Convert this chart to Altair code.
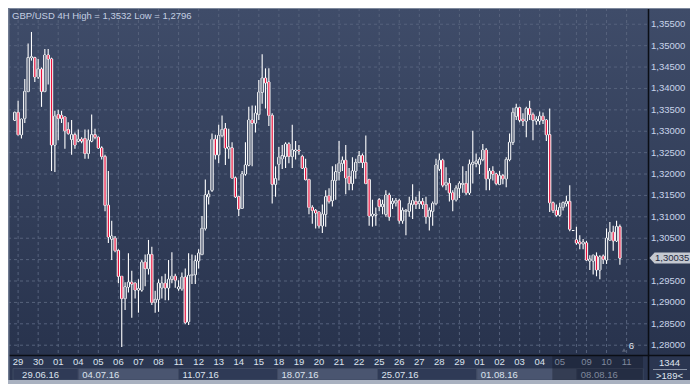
import altair as alt
import pandas as pd

# ---------------- data (GBP/USD 4H candles) ----------------
idx = list(range(-1, 181))
opens = [1.3326, 1.3344, 1.3292, 1.3330, 1.3393, 1.3472, 1.3472, 1.3427, 1.3445, 1.3393,
         1.3478, 1.3469, 1.3268, 1.3339, 1.3337, 1.3333, 1.3304, 1.3281, 1.3292, 1.3277,
         1.3281, 1.3283, 1.3248, 1.3277, 1.3292, 1.3286, 1.3261, 1.3241, 1.3127, 1.3048,
         1.3050, 1.3021, 1.2961, 1.2909, 1.2936, 1.2947, 1.2945, 1.2929, 1.2929, 1.2994,
         1.2979, 1.3012, 1.2900, 1.2907, 1.2934, 1.2945, 1.2934, 1.2954, 1.2961, 1.2932,
         1.2932, 1.2959, 1.2855, 1.2963, 1.2965, 1.2997, 1.3012, 1.3073, 1.3147, 1.3162,
         1.3281, 1.3245, 1.3290, 1.3306, 1.3259, 1.3261, 1.3191, 1.3147, 1.3120, 1.3200,
         1.3221, 1.3326, 1.3319, 1.3339, 1.3391, 1.3424, 1.3415, 1.3337, 1.3176, 1.3223,
         1.3236, 1.3241, 1.3270, 1.3241, 1.3254, 1.3256, 1.3241, 1.3214, 1.3187, 1.3122,
         1.3115, 1.3111, 1.3079, 1.3106, 1.3149, 1.3138, 1.3185, 1.3205, 1.3225, 1.3232,
         1.3194, 1.3178, 1.3207, 1.3227, 1.3243, 1.3227, 1.3187, 1.3102, 1.3104, 1.3140,
         1.3124, 1.3106, 1.3151, 1.3131, 1.3133, 1.3138, 1.3091, 1.3113, 1.3113, 1.3129,
         1.3136, 1.3131, 1.3136, 1.3129, 1.3100, 1.3113, 1.3131, 1.3212, 1.3232, 1.3174,
         1.3178, 1.3156, 1.3140, 1.3167, 1.3176, 1.3178, 1.3156, 1.3223, 1.3225, 1.3223,
         1.3234, 1.3256, 1.3189, 1.3207, 1.3200, 1.3176, 1.3196, 1.3189, 1.3234, 1.3274,
         1.3335, 1.3355, 1.3328, 1.3324, 1.3353, 1.3339, 1.3324, 1.3324, 1.3335, 1.3326,
         1.3292, 1.3133, 1.3115, 1.3104, 1.3122, 1.3131, 1.3136, 1.3068, 1.3046, 1.3041,
         1.3037, 1.3039, 1.2997, 1.2997, 1.3008, 1.2976, 1.3008, 1.2999, 1.3046, 1.3064,
         1.3044, 1.3077]
highs = [1.3346, 1.3371, 1.3330, 1.3422, 1.3505, 1.3532, 1.3474, 1.3469, 1.3449, 1.3492,
         1.3492, 1.3472, 1.3348, 1.3350, 1.3348, 1.3335, 1.3321, 1.3326, 1.3297, 1.3304,
         1.3286, 1.3304, 1.3304, 1.3339, 1.3306, 1.3288, 1.3265, 1.3245, 1.3207, 1.3091,
         1.3055, 1.3024, 1.2961, 1.2947, 1.3015, 1.2974, 1.2947, 1.2954, 1.2999, 1.3012,
         1.3046, 1.3030, 1.2927, 1.2954, 1.2961, 1.2967, 1.2999, 1.3017, 1.2967, 1.2952,
         1.2970, 1.2979, 1.3015, 1.3012, 1.3010, 1.3024, 1.3102, 1.3187, 1.3162, 1.3295,
         1.3292, 1.3315, 1.3337, 1.3319, 1.3306, 1.3274, 1.3194, 1.3149, 1.3207, 1.3274,
         1.3357, 1.3360, 1.3360, 1.3420, 1.3480, 1.3447, 1.3447, 1.3342, 1.3218, 1.3263,
         1.3268, 1.3274, 1.3274, 1.3315, 1.3277, 1.3268, 1.3245, 1.3236, 1.3189, 1.3127,
         1.3118, 1.3113, 1.3129, 1.3162, 1.3167, 1.3218, 1.3223, 1.3277, 1.3241, 1.3268,
         1.3214, 1.3239, 1.3236, 1.3254, 1.3248, 1.3290, 1.3189, 1.3140, 1.3122, 1.3144,
         1.3140, 1.3162, 1.3156, 1.3144, 1.3144, 1.3142, 1.3122, 1.3118, 1.3147, 1.3176,
         1.3147, 1.3160, 1.3144, 1.3147, 1.3122, 1.3136, 1.3236, 1.3248, 1.3236, 1.3216,
         1.3191, 1.3162, 1.3174, 1.3183, 1.3218, 1.3207, 1.3234, 1.3301, 1.3248, 1.3239,
         1.3270, 1.3261, 1.3214, 1.3218, 1.3203, 1.3207, 1.3200, 1.3239, 1.3295, 1.3355,
         1.3364, 1.3357, 1.3342, 1.3357, 1.3371, 1.3344, 1.3335, 1.3346, 1.3344, 1.3328,
         1.3353, 1.3136, 1.3129, 1.3133, 1.3136, 1.3149, 1.3174, 1.3068, 1.3077, 1.3057,
         1.3048, 1.3044, 1.3010, 1.3012, 1.3017, 1.3010, 1.3012, 1.3073, 1.3088, 1.3079,
         1.3091, 1.3082]
lows = [1.3324, 1.3290, 1.3283, 1.3319, 1.3391, 1.3465, 1.3415, 1.3422, 1.3357, 1.3391,
        1.3409, 1.3207, 1.3205, 1.3279, 1.3319, 1.3259, 1.3292, 1.3245, 1.3259, 1.3274,
        1.3272, 1.3236, 1.3236, 1.3274, 1.3281, 1.3259, 1.3234, 1.3113, 1.3039, 1.2999,
        1.3017, 1.2945, 1.2796, 1.2882, 1.2923, 1.2864, 1.2909, 1.2876, 1.2925, 1.2938,
        1.2965, 1.2894, 1.2876, 1.2878, 1.2909, 1.2905, 1.2905, 1.2945, 1.2934, 1.2927,
        1.2927, 1.2849, 1.2847, 1.2943, 1.2943, 1.2979, 1.3010, 1.3068, 1.3129, 1.3158,
        1.3234, 1.3225, 1.3286, 1.3221, 1.3236, 1.3189, 1.3144, 1.3102, 1.3118, 1.3196,
        1.3218, 1.3218, 1.3297, 1.3326, 1.3364, 1.3353, 1.3312, 1.3131, 1.3147, 1.3185,
        1.3212, 1.3214, 1.3225, 1.3214, 1.3234, 1.3245, 1.3212, 1.3185, 1.3106, 1.3084,
        1.3073, 1.3073, 1.3062, 1.3077, 1.3131, 1.3124, 1.3140, 1.3185, 1.3207, 1.3153,
        1.3162, 1.3162, 1.3189, 1.3225, 1.3214, 1.3176, 1.3079, 1.3077, 1.3079, 1.3113,
        1.3106, 1.3100, 1.3091, 1.3118, 1.3124, 1.3084, 1.3084, 1.3057, 1.3100, 1.3095,
        1.3118, 1.3118, 1.3118, 1.3084, 1.3068, 1.3079, 1.3127, 1.3207, 1.3169, 1.3162,
        1.3136, 1.3113, 1.3136, 1.3144, 1.3156, 1.3151, 1.3151, 1.3178, 1.3216, 1.3200,
        1.3230, 1.3162, 1.3162, 1.3185, 1.3174, 1.3174, 1.3176, 1.3169, 1.3230, 1.3268,
        1.3326, 1.3321, 1.3312, 1.3286, 1.3326, 1.3279, 1.3315, 1.3315, 1.3317, 1.3277,
        1.3111, 1.3109, 1.3100, 1.3100, 1.3115, 1.3124, 1.3066, 1.3068, 1.3035, 1.3024,
        1.3024, 1.2997, 1.2976, 1.2965, 1.2961, 1.2954, 1.2990, 1.2990, 1.3044, 1.3021,
        1.3041, 1.2988]
closes = [1.3344, 1.3292, 1.3328, 1.3393, 1.3472, 1.3474, 1.3427, 1.3445, 1.3393, 1.3478,
          1.3469, 1.3268, 1.3335, 1.3330, 1.3330, 1.3301, 1.3295, 1.3292, 1.3268, 1.3281,
          1.3277, 1.3248, 1.3279, 1.3292, 1.3286, 1.3261, 1.3241, 1.3127, 1.3053, 1.3055,
          1.3021, 1.2961, 1.2909, 1.2936, 1.2947, 1.2943, 1.2929, 1.2932, 1.2994, 1.2979,
          1.3012, 1.2900, 1.2907, 1.2945, 1.2945, 1.2934, 1.2954, 1.2961, 1.2952, 1.2936,
          1.2959, 1.2853, 1.2963, 1.2965, 1.2997, 1.3015, 1.3073, 1.3151, 1.3153, 1.3281,
          1.3245, 1.3290, 1.3304, 1.3261, 1.3263, 1.3191, 1.3147, 1.3118, 1.3200, 1.3221,
          1.3326, 1.3319, 1.3342, 1.3391, 1.3424, 1.3413, 1.3337, 1.3176, 1.3189, 1.3239,
          1.3243, 1.3270, 1.3241, 1.3256, 1.3256, 1.3254, 1.3214, 1.3187, 1.3122, 1.3115,
          1.3109, 1.3079, 1.3106, 1.3147, 1.3136, 1.3185, 1.3205, 1.3225, 1.3232, 1.3191,
          1.3178, 1.3207, 1.3227, 1.3243, 1.3227, 1.3178, 1.3102, 1.3106, 1.3106, 1.3124,
          1.3129, 1.3151, 1.3100, 1.3136, 1.3138, 1.3091, 1.3115, 1.3115, 1.3131, 1.3138,
          1.3129, 1.3136, 1.3129, 1.3100, 1.3115, 1.3131, 1.3221, 1.3232, 1.3174, 1.3180,
          1.3156, 1.3140, 1.3167, 1.3178, 1.3178, 1.3156, 1.3223, 1.3227, 1.3230, 1.3234,
          1.3256, 1.3189, 1.3207, 1.3200, 1.3178, 1.3196, 1.3189, 1.3234, 1.3274, 1.3344,
          1.3355, 1.3326, 1.3324, 1.3353, 1.3339, 1.3326, 1.3328, 1.3335, 1.3326, 1.3292,
          1.3133, 1.3115, 1.3104, 1.3122, 1.3133, 1.3136, 1.3071, 1.3068, 1.3039, 1.3037,
          1.3041, 1.2999, 1.3001, 1.3010, 1.2976, 1.3006, 1.3001, 1.3050, 1.3064, 1.3044,
          1.3077, 1.30035]

day_labels = ["29", "30", "01", "04", "05", "06", "07", "08", "11", "12", "13", "14", "15",
              "18", "19", "20", "21", "22", "25", "26", "27", "28", "29", "01", "02", "03",
              "04", "05", "09", "10", "11"]
day_pos = [0, 6, 12, 18, 24, 30, 36, 42, 48, 54, 60, 66, 72, 78, 84, 90, 96, 102, 108, 114,
           120, 126, 132, 138, 144, 150, 156, 162, 170, 176, 182]
hidden_day_pos = [167]          # Monday 08, label hidden by overlap
week_labels = ["29.06.16", "04.07.16", "11.07.16", "18.07.16", "25.07.16", "01.08.16", "08.08.16"]
week_start = [-1.525, 18, 48, 77.6, 107.5, 137.2, 167.1]
week_anchor = [0, 18, 48, 77.6, 107.5, 137.2, 167.1]
price_ticks = [1.280, 1.285, 1.290, 1.295, 1.300, 1.305, 1.310, 1.315, 1.320, 1.325,
               1.330, 1.335, 1.340, 1.345, 1.350, 1.355]
# the 1,30000 label sits under the current-price marker in the reference
price_labels = [v for v in price_ticks if abs(v - 1.300) > 1e-9]

# ---------------- layout ----------------
W, H = 640, 347
RIGHT, BOTTOM = 42, 29
XMIN, XMAX = -1.525, 186.91
YMIN, YMAX = 1.27771, 1.3588
FONT = "Liberation Sans"
FS = 9.5

xs = alt.Scale(domain=[XMIN, XMAX], nice=False, zero=False)
ys = alt.Scale(domain=[YMIN, YMAX], nice=False, zero=False)

one = pd.DataFrame({"a": [0]})
df = pd.DataFrame({"idx": idx, "open": opens, "high": highs, "low": lows, "close": closes})

title_txt = ("GBP/USD 4H High = " + f"{max(highs):.4f}" + " Low = " + f"{min(lows):.4f}").replace(".", ",")

# background gradient (plot + right scale area)
grad = alt.LinearGradient(gradient="linear",
                          stops=[alt.GradientStop(color="#3f4c69", offset=0),
                                 alt.GradientStop(color="#28334d", offset=1)],
                          x1=0, x2=0, y1=0, y2=1)
bg = alt.Chart(one).mark_rect(fill=grad).encode(
    x=alt.value(0), x2=alt.value(W + RIGHT), y=alt.value(0), y2=alt.value(H))

# bottom axis area
axis_bg = alt.Chart(one).mark_rect(fill="#2b3651").encode(
    x=alt.value(0), x2=alt.value(W + RIGHT), y=alt.value(H), y2=alt.value(H + BOTTOM))

wk = pd.DataFrame({
    "s": week_start,
    "e": week_start[1:] + [XMAX],
    "a": week_anchor,
    "t": week_labels,
    "c": ["#2f3a56" if i % 2 == 0 else "#4a5570" for i in range(len(week_labels))],
})
week_boxes = alt.Chart(wk).mark_rect(stroke="#3f4a63", strokeWidth=1).encode(
    x=alt.X("s:Q", scale=xs, axis=None), x2="e:Q",
    y=alt.value(360.5), y2=alt.value(372),
    fill=alt.Fill("c:N", scale=None))

overlay = alt.Chart(pd.DataFrame({"s": [159.8], "e": [XMAX]})).mark_rect(
    fill="#121826", opacity=0.38).encode(
    x=alt.X("s:Q", scale=xs, axis=None), x2="e:Q", y=alt.value(H), y2=alt.value(372))

bottom_strip = alt.Chart(one).mark_rect(fill="#a9b1c0").encode(
    x=alt.value(0), x2=alt.value(W + RIGHT), y=alt.value(372), y2=alt.value(H + BOTTOM))

# grid
hgrid = alt.Chart(pd.DataFrame({"v": price_ticks})).mark_rule(
    color="#56627c", strokeDash=[3, 3], strokeWidth=1).encode(
    y=alt.Y("v:Q", scale=ys, axis=None), x=alt.value(0), x2=alt.value(W))
vgrid = alt.Chart(pd.DataFrame({"p": day_pos + hidden_day_pos})).mark_rule(
    color="#56627c", strokeDash=[3, 3], strokeWidth=1).encode(
    x=alt.X("p:Q", scale=xs, axis=None), y=alt.value(0), y2=alt.value(H))

# candles
base = alt.Chart(df).transform_calculate(
    top="max(datum.open, datum.close)", bot="min(datum.open, datum.close)")
upper = base.mark_rule(color="#ffffff", strokeWidth=1.1).encode(
    x=alt.X("idx:Q", scale=xs, axis=None),
    y=alt.Y("high:Q", scale=ys, axis=None), y2="top:Q")
lower = base.mark_rule(color="#ffffff", strokeWidth=1.1).encode(
    x=alt.X("idx:Q", scale=xs, axis=None),
    y=alt.Y("bot:Q", scale=ys, axis=None), y2="low:Q")
body_outer = alt.Chart(df).mark_bar(size=2.3, fill="#ffffff", stroke="#ffffff", strokeWidth=1).encode(
    x=alt.X("idx:Q", scale=xs, axis=None),
    y=alt.Y("open:Q", scale=ys, axis=None), y2="close:Q")
body_inner = alt.Chart(df).mark_bar(size=1.2, strokeWidth=0).encode(
    x=alt.X("idx:Q", scale=xs, axis=None),
    y=alt.Y("open:Q", scale=ys, axis=None), y2="close:Q",
    fill=alt.condition("datum.close < datum.open", alt.value("#e8113d"), alt.value("#34405c")))

# frame lines
vline = alt.Chart(one).mark_rule(color="#0b0e15", strokeWidth=1.5).encode(
    x=alt.value(W + 0.5), y=alt.value(0), y2=alt.value(372))
hline = alt.Chart(one).mark_rule(color="#0b0e15", strokeWidth=1.5).encode(
    y=alt.value(H + 0.5), x=alt.value(0), x2=alt.value(W + RIGHT))
top_border = alt.Chart(one).mark_rule(color="#7d889c", strokeWidth=1).encode(
    y=alt.value(0.5), x=alt.value(0), x2=alt.value(W + RIGHT))
left_border = alt.Chart(one).mark_rule(color="#6f7a90", strokeWidth=1.5).encode(
    x=alt.value(0.75), y=alt.value(0), y2=alt.value(372))

# price scale labels
ylabels = alt.Chart(pd.DataFrame({"v": price_labels})).transform_calculate(
    lbl="replace(format(datum.v, '.5f'), '.', ',')").mark_text(
    align="left", baseline="middle", color="#c9d4ea", font=FONT, fontSize=FS).encode(
    y=alt.Y("v:Q", scale=ys, axis=None), x=alt.value(W + 3), text="lbl:N")

# day labels
days = pd.DataFrame({"p": day_pos, "t": day_labels})
dlabels = alt.Chart(days).mark_text(align="center", baseline="middle", font=FONT, fontSize=FS).encode(
    x=alt.X("p:Q", scale=xs, axis=None), y=alt.value(354), text="t:N",
    color=alt.condition("datum.p >= 160", alt.value("#7f889c"), alt.value("#dce3ee")))
wlabels = alt.Chart(wk).mark_text(align="left", baseline="middle", dx=4, font=FONT, fontSize=FS).encode(
    x=alt.X("a:Q", scale=xs, axis=None), y=alt.value(366.5), text="t:N",
    color=alt.condition("datum.a >= 160", alt.value("#7f889c"), alt.value("#dce3ee")))

# current price marker
last = df.tail(1)
PATH = "M-1,0L-0.77,-0.25L1,-0.25L1,0.25L-0.77,0.25Z"
pbox = alt.Chart(last).mark_point(shape=PATH, size=1936, filled=True, color="#c5c9d1",
                                  opacity=1, strokeWidth=0).encode(
    x=alt.value(W + 1.5 + 22), y=alt.Y("close:Q", scale=ys, axis=None))
ptext = alt.Chart(last).transform_calculate(
    lbl="replace(format(datum.close, '.5f'), '.', ',')").mark_text(
    align="left", baseline="middle", color="#1e283e", font=FONT, fontSize=FS).encode(
    x=alt.value(W + 7), y=alt.Y("close:Q", scale=ys, axis=None), text="lbl:N")

# texts
title = alt.Chart(one).mark_text(align="left", baseline="middle", color="#c3cee2",
                                 font=FONT, fontSize=FS, text=title_txt).encode(
    x=alt.value(4), y=alt.value(8))
tri = alt.Chart(one).mark_point(shape="triangle-up", filled=True, color="#5b6479",
                                size=18, opacity=1).encode(x=alt.value(616), y=alt.value(342))
six = alt.Chart(one).mark_text(align="center", baseline="middle", color="#e0e5ee",
                               font=FONT, fontSize=FS, text="6").encode(
    x=alt.value(623.5), y=alt.value(338))
rb_line = alt.Chart(one).mark_rule(color="#8a93a6", strokeWidth=1).encode(
    y=alt.value(361.5), x=alt.value(W + 5), x2=alt.value(W + 39))
rb1 = alt.Chart(one).mark_text(align="center", baseline="middle", color="#dfe5ef",
                               font=FONT, fontSize=FS, text="1344").encode(
    x=alt.value(W + 21.5), y=alt.value(355))
rb2 = alt.Chart(one).mark_text(align="center", baseline="middle", color="#dfe5ef",
                               font=FONT, fontSize=FS, text=">189<").encode(
    x=alt.value(W + 21.5), y=alt.value(367.5))

chart = alt.layer(
    bg, axis_bg, week_boxes, overlay, bottom_strip,
    hgrid, vgrid, upper, lower, body_outer, body_inner,
    vline, hline, top_border, left_border,
    ylabels, dlabels, wlabels, pbox, ptext,
    title, tri, six, rb_line, rb1, rb2,
).properties(
    width=W, height=H,
    padding={"left": 0, "top": 0, "right": RIGHT, "bottom": BOTTOM},
    autosize=alt.AutoSizeParams(type="none"),
    background="#2b3651",
).configure_view(stroke=None)

chart.save("out.html", embed_options={"renderer": "svg", "actions": False})
